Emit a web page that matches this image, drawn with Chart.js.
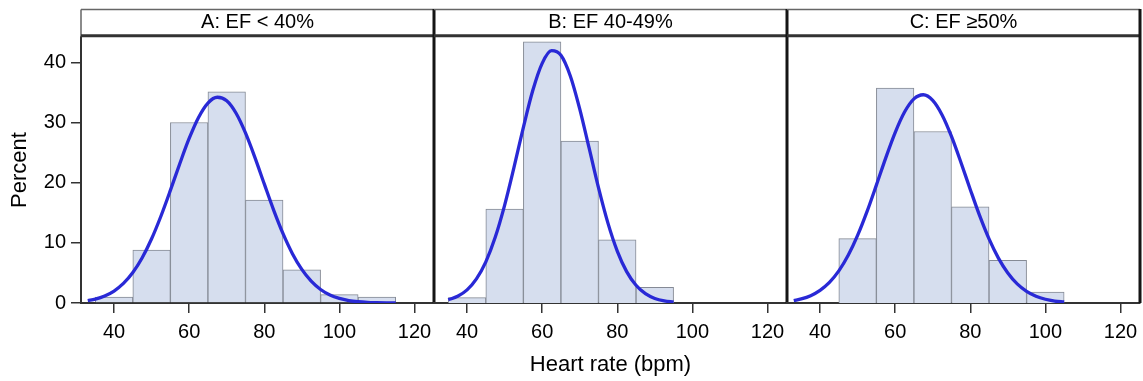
<!DOCTYPE html>
<html>
<head>
<meta charset="utf-8">
<script src="https://cdn.jsdelivr.net/npm/chart.js@4.4.1/dist/chart.umd.min.js"></script>
<style>
  body { margin: 0; background: #fff; width: 1143px; height: 381px; overflow: hidden; position: relative; }
  canvas { position: absolute; top: 0; }
</style>
</head>
<body>
<canvas id="c0"></canvas>
<canvas id="c1"></canvas>
<canvas id="c2"></canvas>
<script>
// panel labels and axis ticks
const panelTitles = ['A: EF < 40%', 'B: EF 40-49%', 'C: EF \u226550%'];
const xTicks = [40, 60, 80, 100, 120];
const yTicks = [0, 10, 20, 30, 40];

// histogram bins (bin midpoints, width 10 bpm) and percent per bin
const binsA = [40, 50, 60, 70, 80, 90, 100, 110];
const pctA  = [1.0, 8.8, 30.0, 35.1, 17.1, 5.5, 1.4, 1.0];
const binsB = [40, 50, 60, 70, 80, 90];
const pctB  = [0.9, 15.6, 43.4, 26.9, 10.5, 2.6];
const binsC = [50, 60, 70, 80, 90, 100];
const pctC  = [10.7, 35.7, 28.5, 16.0, 7.1, 1.8];

// fitted normal curves
const curveXA = [33, 35, 37.5, 40, 42.5, 45, 47.5, 50, 52.5, 55, 57.5, 60, 62.5, 65, 67.5, 70, 72.5, 75, 77.5, 80, 82.5, 85, 87.5, 90, 92.5, 95, 97.5, 100, 102.5, 105, 107.5, 110, 112.5, 115];
const curveA  = [0.40, 0.65, 1.17, 1.99, 3.25, 5.06, 7.51, 10.67, 14.46, 18.71, 23.15, 27.34, 30.84, 33.23, 34.19, 33.6, 31.53, 28.26, 24.2, 19.79, 15.44, 11.52, 8.20, 5.58, 3.63, 2.25, 1.33, 0.76, 0.41, 0.21, 0.10, 0.05, 0.02, 0.01];
const curveXB = [35, 37.5, 40, 42.5, 45, 47.5, 50, 52.5, 55, 57.5, 60, 62.5, 65, 67.5, 70, 72.5, 75, 77.5, 80, 82.5, 85, 87.5, 90, 92.5, 95];
const curveB  = [0.53, 1.11, 2.18, 4.00, 6.84, 10.91, 16.23, 22.53, 29.19, 35.30, 39.82, 41.92, 41.17, 37.73, 32.26, 25.76, 19.16, 13.31, 8.63, 5.22, 2.95, 1.55, 0.76, 0.35, 0.15];
const curveXC = [33, 35, 37.5, 40, 42.5, 45, 47.5, 50, 52.5, 55, 57.5, 60, 62.5, 65, 67.5, 70, 72.5, 75, 77.5, 80, 82.5, 85, 87.5, 90, 92.5, 95, 97.5, 100, 102.5, 105];
const curveC  = [0.41, 0.68, 1.22, 2.10, 3.42, 5.33, 7.92, 11.23, 15.18, 19.59, 24.12, 28.32, 31.73, 33.92, 34.6, 33.67, 31.25, 27.68, 23.39, 18.87, 14.51, 10.65, 7.46, 4.98, 3.17, 1.93, 1.12, 0.62, 0.33, 0.17];

const FONT = '"Liberation Sans", Arial, sans-serif';
const INK = '#000';
const FRAME = '#333';
const BAR_FILL = '#d6deee';
const BAR_EDGE = '#858a95';
const CURVE = '#2929d6';

const plotTop = 37, plotBottom = 303, plotWidth = 353;
const plotLefts = [81, 434, 787];
const pad = 24;

// header strip + panel borders
const framePlugin = {
  id: 'framePlugin',
  afterDraw(chart, args, opts) {
    const ctx = chart.ctx;
    const a = chart.chartArea;
    ctx.save();
    ctx.strokeStyle = '#666';
    ctx.lineWidth = 1.5;
    ctx.beginPath();
    ctx.moveTo(a.left, 9.5);
    ctx.lineTo(a.right, 9.5);
    if (opts.first) {
      ctx.moveTo(a.left, 9.5);
      ctx.lineTo(a.left, plotTop);
    }
    ctx.stroke();

    ctx.fillStyle = INK;
    ctx.font = '20px ' + FONT;
    ctx.textAlign = 'center';
    ctx.textBaseline = 'middle';
    ctx.fillText(opts.title, (a.left + a.right) / 2, 22.5);

    ctx.strokeStyle = FRAME;
    ctx.lineWidth = 3;
    ctx.beginPath();
    ctx.moveTo(a.left, 35.8);
    ctx.lineTo(a.right, 35.8);
    ctx.stroke();

    ctx.strokeStyle = '#151515';
    ctx.beginPath();
    ctx.moveTo(a.right, 9);
    ctx.lineTo(a.right, a.bottom);
    ctx.stroke();
    ctx.restore();
  }
};

function makePanel(idx, bins, pcts, curveX, curveY) {
  const first = idx === 0;
  const left = plotLefts[idx];
  const padLeft = first ? 0 : pad;
  const canvasLeft = first ? 0 : left - pad;
  const canvas = document.getElementById('c' + idx);
  canvas.width = (first ? left : pad) + plotWidth + pad;
  canvas.height = 381;
  canvas.style.left = canvasLeft + 'px';

  new Chart(canvas, {
    type: 'bar',
    data: {
      datasets: [
        {
          type: 'line',
          data: curveX.map((x, i) => ({ x: x, y: curveY[i] })),
          borderColor: CURVE,
          borderWidth: 3.3,
          pointRadius: 0,
          cubicInterpolationMode: 'monotone',
          fill: false,
          order: 0
        },
        {
          type: 'bar',
          data: bins.map((x, i) => ({ x: x, y: pcts[i] })),
          backgroundColor: BAR_FILL,
          borderColor: BAR_EDGE,
          borderWidth: 1,
          barPercentage: 1,
          categoryPercentage: 1,
          order: 1
        }
      ]
    },
    options: {
      responsive: false,
      animation: false,
      devicePixelRatio: 1,
      layout: { padding: { left: padLeft, right: pad, top: plotTop, bottom: 0 } },
      plugins: {
        legend: { display: false },
        tooltip: { enabled: false },
        framePlugin: { title: panelTitles[idx], first: first }
      },
      scales: {
        x: {
          type: 'linear',
          min: 31.2,
          max: 125.2,
          offset: false,
          afterBuildTicks: s => { s.ticks = xTicks.map(v => ({ value: v })); },
          afterFit: s => { s.height = 381 - plotBottom; },
          grid: { display: true, offset: false, drawOnChartArea: false, tickLength: 10, color: FRAME, lineWidth: 1.5 },
          border: { display: true, color: FRAME, width: 2 },
          ticks: { font: { family: FONT, size: 20 }, color: INK, padding: 7, maxRotation: 0, autoSkip: false },
          title: {
            display: idx === 1,
            text: 'Heart rate (bpm)',
            font: { family: FONT, size: 22 },
            color: INK,
            padding: { top: 0, bottom: 3 }
          }
        },
        y: {
          display: first,
          min: 0,
          max: 44.2,
          afterBuildTicks: s => { s.ticks = yTicks.map(v => ({ value: v })); },
          afterFit: s => { s.width = first ? left : 0; },
          grid: { display: true, drawOnChartArea: false, tickLength: 10, color: FRAME, lineWidth: 1.5 },
          border: { display: true, color: FRAME, width: 2 },
          ticks: { font: { family: FONT, size: 20 }, color: INK, padding: 5 },
          title: {
            display: true,
            text: 'Percent',
            font: { family: FONT, size: 22 },
            color: INK,
            padding: { top: 7, bottom: 0 }
          }
        }
      }
    },
    plugins: [framePlugin]
  });
}

makePanel(0, binsA, pctA, curveXA, curveA);
makePanel(1, binsB, pctB, curveXB, curveB);
makePanel(2, binsC, pctC, curveXC, curveC);
</script>
</body>
</html>
